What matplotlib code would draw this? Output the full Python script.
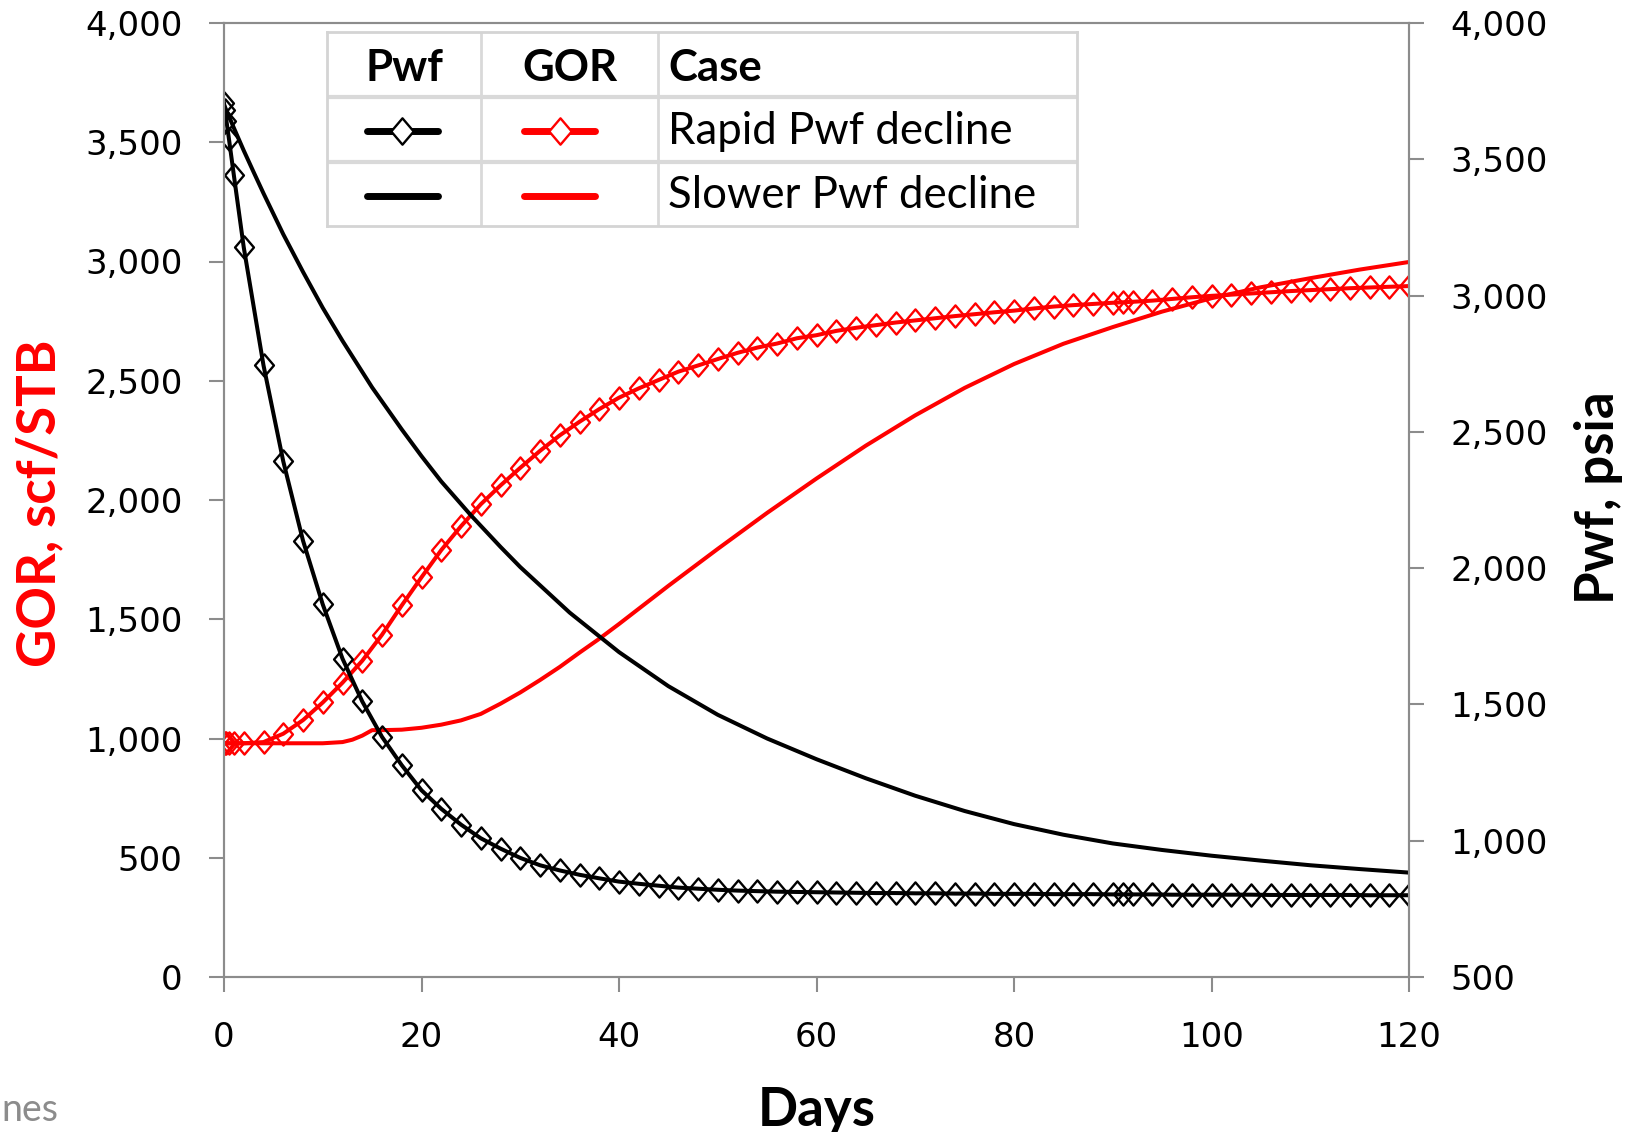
import matplotlib
matplotlib.use("Agg")
import matplotlib.pyplot as plt
from matplotlib.ticker import FuncFormatter, MultipleLocator
from matplotlib.path import Path

# rapid Pwf decline case (markers)
days_rapid = [0, 0.1, 0.25, 0.5, 1, 2, 4, 6, 8, 10, 12, 14, 16, 18, 20, 22, 24, 26, 28, 30,
              32, 34, 36, 38, 40, 42, 44, 46, 48, 50, 52, 54, 56, 58, 60, 62, 64, 66, 68, 70,
              72, 74, 76, 78, 80, 82, 84, 86, 88, 90, 91, 92, 94, 96, 98, 100, 102, 104, 106,
              108, 110, 112, 114, 116, 118, 120]
pwf_rapid = [3705, 3680, 3640, 3575, 3441, 3177, 2744, 2392, 2101, 1867, 1668, 1511, 1381, 1277,
             1185, 1117, 1059, 1009, 971, 937, 910, 891, 875, 862, 850, 842, 835, 828, 824, 820,
             817, 815, 813, 812, 811, 810, 809, 808, 808, 807, 807, 806, 806, 805, 805, 805, 804,
             804, 804, 803, 803, 803, 803, 802, 802, 802, 802, 802, 801, 801, 801, 801, 801, 800,
             800, 800]
gor_rapid = [980, 980, 980, 980, 980, 980, 985, 1020, 1077, 1151, 1234, 1326, 1435, 1558, 1676,
             1790, 1890, 1982, 2061, 2135, 2206, 2271, 2328, 2381, 2429, 2468, 2503, 2538, 2564,
             2591, 2617, 2639, 2656, 2678, 2691, 2709, 2722, 2733, 2744, 2753, 2762, 2771, 2779,
             2787, 2794, 2803, 2811, 2817, 2822, 2827, 2829, 2831, 2836, 2843, 2850, 2856, 2861,
             2866, 2871, 2876, 2880, 2884, 2888, 2891, 2894, 2897]

# slower Pwf decline case (plain lines)
days_slow_pwf = [0, 1, 2, 3, 4, 6, 8, 10, 12, 15, 18, 20, 22, 25, 28, 30, 35, 40, 45, 50, 55,
                 60, 65, 70, 75, 80, 85, 90, 95, 100, 105, 110, 115, 120]
pwf_slow = [3700, 3615, 3532, 3453, 3375, 3225, 3087, 2955, 2834, 2663, 2509, 2411, 2318, 2194,
            2078, 2004, 1837, 1692, 1567, 1462, 1375, 1299, 1229, 1165, 1109, 1061, 1022, 990,
            966, 945, 927, 910, 896, 883]
days_slow_gor = [0, 4, 8, 10, 12, 13, 14, 15, 16, 18, 20, 22, 24, 26, 28, 30, 32, 34, 36, 38,
                 40, 45, 50, 55, 60, 65, 70, 75, 80, 85, 90, 95, 100, 105, 110, 115, 120]
gor_slow = [980, 980, 980, 980, 985, 995, 1012, 1035, 1035, 1037, 1045, 1058, 1076, 1103, 1146,
            1193, 1245, 1300, 1360, 1418, 1480, 1640, 1795, 1946, 2090, 2228, 2355, 2470, 2570,
            2655, 2725, 2790, 2846, 2892, 2930, 2966, 2998]

legend_rows = ["Rapid Pwf decline", "Slower Pwf decline"]

W, H = 1635, 1132
grey = "#8c8c8c"
red = "#ff0000"
lab_font = "Lato"
tick_font = "DejaVu Sans"

# tall diamond marker
diamond = Path([(0, 1), (0.85, 0), (0, -1), (-0.85, 0), (0, 1)],
               [Path.MOVETO, Path.LINETO, Path.LINETO, Path.LINETO, Path.CLOSEPOLY])

fig = plt.figure(figsize=(W / 100, H / 100), dpi=100)
fig.set_facecolor("white")

ax = fig.add_axes([224 / W, 1 - 977 / H, (1409 - 224) / W, (977 - 23) / H])
ax2 = ax.twinx()

# GOR on left axis
ax.plot(days_slow_gor, gor_slow, color=red, lw=2.9)
ax.plot(days_rapid, gor_rapid, color=red, lw=2.9, marker=diamond, ms=16,
        mfc="none", mec=red, mew=1.7)

# Pwf on right axis
ax2.plot(days_slow_pwf, pwf_slow, color="black", lw=2.9)
ax2.plot(days_rapid, pwf_rapid, color="black", lw=2.9, marker=diamond, ms=16,
         mfc="none", mec="black", mew=1.7)

ax.set_xlim(0, 120)
ax.set_ylim(0, 4000)
ax2.set_ylim(500, 4000)
ax.xaxis.set_major_locator(MultipleLocator(20))
ax.yaxis.set_major_locator(MultipleLocator(500))
ax2.yaxis.set_major_locator(MultipleLocator(500))
fmt = FuncFormatter(lambda v, p: f"{v:,.0f}")
ax.yaxis.set_major_formatter(fmt)
ax2.yaxis.set_major_formatter(fmt)

for a in (ax, ax2):
    for s in a.spines.values():
        s.set_color(grey)
        s.set_linewidth(1.5)
    a.tick_params(direction="out", length=10.8, width=1.5, color=grey, pad=19,
                  labelsize=24.5, labelcolor="black")
    for t in a.get_xticklabels() + a.get_yticklabels():
        t.set_fontfamily(tick_font)
ax.tick_params(axis="x", pad=21)

# axis titles
fig.text(40 / W, 1 - 503 / H, "GOR, scf/STB", rotation=90, color=red, fontsize=38,
         fontweight="bold", family=lab_font, ha="center", va="center")
fig.text(1598 / W, 1 - 498 / H, "Pwf, psia", rotation=90, color="black", fontsize=38,
         fontweight="bold", family=lab_font, ha="center", va="center")
fig.text(817 / W, 1 - 1126 / H, "Days", color="black", fontsize=38, fontweight="bold",
         family=lab_font, ha="center", va="baseline")
fig.text(1 / W, 1 - 1121 / H, "nes", color=grey, fontsize=27, family=lab_font,
         ha="left", va="baseline")

# legend drawn as a small table
lx0, ly0, lw_, lh_ = 327, 32, 750, 194
lg = fig.add_axes([lx0 / W, 1 - (ly0 + lh_) / H, lw_ / W, lh_ / H])
lg.set_xlim(0, lw_)
lg.set_ylim(lh_, 0)
lg.set_facecolor("white")
for s in lg.spines.values():
    s.set_color("#d4d4d4")
    s.set_linewidth(2)
lg.set_xticks([])
lg.set_yticks([])
gc = "#d9d9d9"
for xv in (154, 331):
    lg.plot([xv, xv], [0, lh_], color=gc, lw=2)
for yv in (65, 130):
    lg.plot([0, lw_], [yv, yv], color=gc, lw=3)

fs = 31.5
hy, r1, r2 = 36, 99, 164
lg.text(77, hy, "Pwf", fontsize=fs, fontweight="bold", family=lab_font, ha="center", va="center")
lg.text(242.5, hy, "GOR", fontsize=fs, fontweight="bold", family=lab_font, ha="center", va="center")
lg.text(341, hy, "Case", fontsize=fs, fontweight="bold", family=lab_font, ha="left", va="center")
lg.text(341, r1, legend_rows[0], fontsize=fs, family=lab_font, ha="left", va="center")
lg.text(341, r2, legend_rows[1], fontsize=fs, family=lab_font, ha="left", va="center")

lg.plot([40, 111], [r1, r1], color="black", lw=5, solid_capstyle="round")
lg.plot([75], [r1], marker=diamond, ms=19, mfc="white", mec="black", mew=1.7)
lg.plot([197, 268], [r1, r1], color=red, lw=5, solid_capstyle="round")
lg.plot([232.5], [r1], marker=diamond, ms=19, mfc="white", mec=red, mew=1.7)
lg.plot([40, 111], [r2, r2], color="black", lw=5, solid_capstyle="round")
lg.plot([197, 268], [r2, r2], color=red, lw=5, solid_capstyle="round")

fig.savefig("out.png", dpi=100, facecolor="white")
